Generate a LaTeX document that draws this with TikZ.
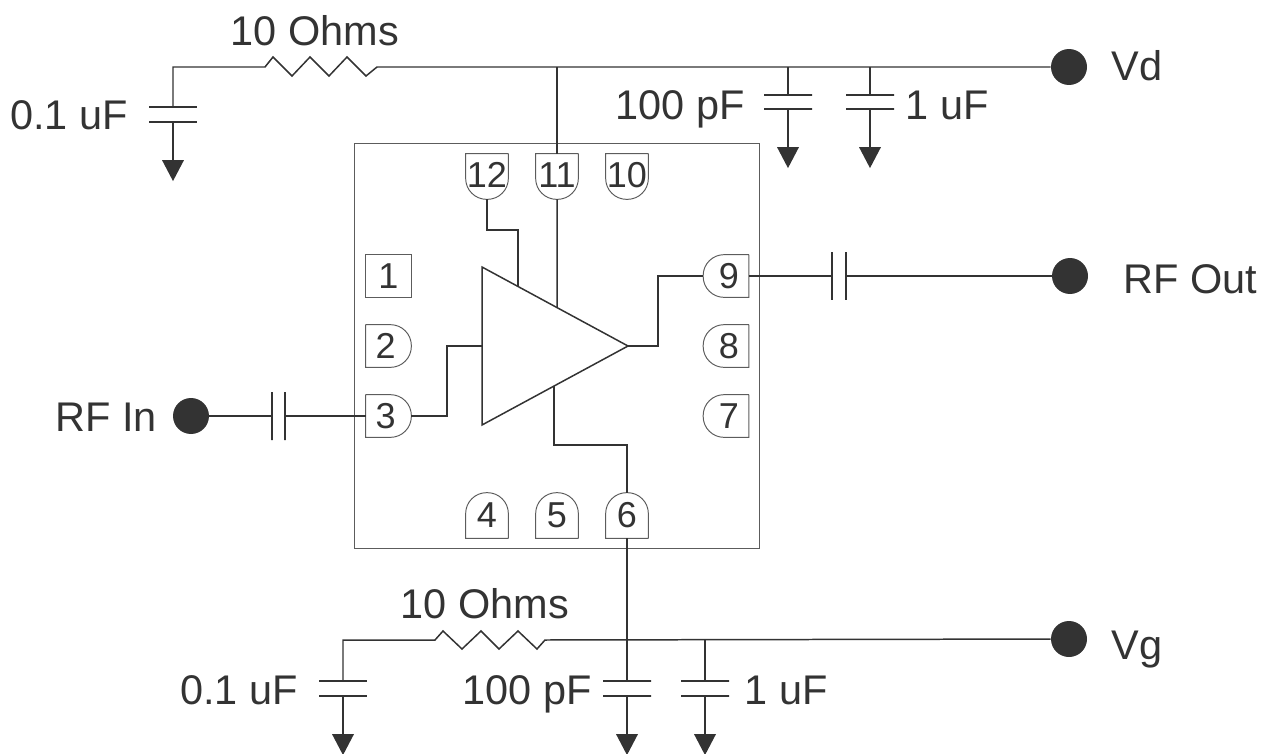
\documentclass[tikz,border=0pt]{standalone}
\usepackage{fontspec}
\setmainfont{Liberation Sans}
\usetikzlibrary{shapes,positioning,calc}
\definecolor{ink}{HTML}{333333}

\begin{document}
\begin{tikzpicture}[
          x=0.02cm, y=-0.02cm,
          wire/.style={draw=ink, line width=0.85pt},
          outline/.style={draw=ink!80, line width=0.55pt},
          label/.style={text=ink, font=\fontsize{23.6}{25}\selectfont, inner sep=0pt},
          pinbox/.style={rectangle, text=ink, font=\fontsize{20.5}{22}\selectfont, inner sep=0pt, minimum width=0.84cm, minimum height=0.9cm},
          terminal/.style={circle, fill=ink, minimum size=0.72cm, inner sep=0pt},
          plate/.style={rectangle, draw=ink, line width=0.85pt, minimum width=0.96cm, minimum height=0pt, inner sep=0pt},
          couple/.style={rectangle, draw=ink, line width=0.85pt, minimum width=0pt, minimum height=0.96cm, inner sep=0pt},
          ground/.style={isosceles triangle, isosceles triangle stretches, shape border rotate=-90, fill=ink, minimum width=0.44cm, minimum height=0.42cm, inner sep=0pt, anchor=apex}
        ]
          \useasboundingbox (0,0) rectangle (1262,754);

          % Package and amplifier
          \node[rectangle, outline, minimum width=8.1cm, minimum height=8.12cm] (chip) at (557,346) {};
          \coordinate (ampA) at (482,267);
          \coordinate (ampB) at (482,425);
          \coordinate (ampC) at (628,346);
          \draw[wire, line join=miter] (ampA) -- (ampC) -- (ampB) -- cycle;

          % Pins
          \foreach \pin/\px in {12/487, 11/557, 10/627}
            \node[pinbox] (pin\pin) at (\px,176.5) {\raisebox{2pt}{\pin}};
          \foreach \pin/\px in {4/487, 5/557, 6/627}
            \node[pinbox] (pin\pin) at (\px,515.5) {\raisebox{-1pt}{\pin}};
          \node[pinbox, minimum width=0.9cm, minimum height=0.84cm] (pin1) at (388.5,276) {1};
          \foreach \pin/\py in {2/346, 3/416}
            \node[pinbox, minimum width=0.9cm, minimum height=0.84cm] (pin\pin) at (388.5,\py) {\pin\kern3.4pt};
          \foreach \pin/\py in {9/276, 8/346, 7/416}
            \node[pinbox, minimum width=0.9cm, minimum height=0.84cm] (pin\pin) at (726,\py) {\kern3.4pt\pin};
          \draw[outline] (pin1.north west) rectangle (pin1.south east);
          \foreach \pin in {12,11,10}
            \draw[outline] (pin\pin.north east) -- (pin\pin.north west) [rounded corners=11.9pt] -- (pin\pin.south west) -- (pin\pin.south east) -- (pin\pin.north east);
          \foreach \pin in {4,5,6}
            \draw[outline] (pin\pin.south east) -- (pin\pin.south west) [rounded corners=11.9pt] -- (pin\pin.north west) -- (pin\pin.north east) -- (pin\pin.south east);
          \foreach \pin in {2,3}
            \draw[outline] (pin\pin.north west) -- (pin\pin.south west) [rounded corners=11.9pt] -- (pin\pin.south east) -- (pin\pin.north east) -- (pin\pin.north west);
          \foreach \pin in {9,8,7}
            \draw[outline] (pin\pin.north east) -- (pin\pin.south east) [rounded corners=11.9pt] -- (pin\pin.south west) -- (pin\pin.north west) -- (pin\pin.north east);

          % Terminals
          \node[terminal] (vd) at (1069,67) {};
          \node[terminal] (rfout) at (1070,276) {};
          \node[terminal] (vg) at (1069,639) {};
          \node[terminal] (rfin) at (191,416) {};
          \node[label, anchor=west] (vdtext) at (1111,66) {Vd};
          \node[label, anchor=west] (rfouttext) at (1123,279) {RF Out};
          \node[label, anchor=west] (vgtext) at (1111,650) {Vg};
          \node[label, anchor=east] (rfintext) at (157,417) {RF In};

          % Drain side
          \node[plate] (c1a) at (173,107) {};
          \node[plate] (c1b) at (173,122) {};
          \node[plate] (c2a) at (788,95) {};
          \node[plate] (c2b) at (788,109) {};
          \node[plate] (c3a) at (870,95) {};
          \node[plate] (c3b) at (870,109) {};
          \node[ground] (g1) at (173,182) {};
          \node[ground] (g2) at (788,169) {};
          \node[ground] (g3) at (870,169) {};
          \coordinate (r1in) at (265,67);
          \coordinate (r1out) at (377,67);
          \draw[wire] (c1a) |- (r1in) -- ++(8,-10) -- ++(19,19) -- ++(18,-19) -- ++(19,19) -- ++(18,-19) -- ++(19,19) -- (r1out) -- (vd);
          \draw[wire] (c1b) -- (g1.lower side);
          \foreach \cap in {2,3} {
            \draw[wire] (c\cap a) -- (c\cap a |- vd);
            \draw[wire] (c\cap b) -- (g\cap.lower side);
          }
          \draw[wire] (pin11.north) -- (pin11.north |- vd);
          \draw[wire] (pin11.south) -- ($(ampA)!0.514!(ampC)$);
          \draw[wire] (pin12.south) |- (518,230) -- (518,286);
          \node[label] (r1text) at (315,31) {10 Ohms};
          \node[label] (c1text) at (69,115) {0.1 uF};
          \node[label] (c2text) at (680,109) {100 pF};
          \node[label] (c3text) at (947,105) {1 uF};

          % Signal path
          \node[couple] (c4a) at (272,416) {};
          \node[couple] (c4b) at (285,416) {};
          \node[couple] (c5a) at (832,276) {};
          \node[couple] (c5b) at (846,276) {};
          \draw[wire] (rfin) -- (c4a);
          \draw[wire] (c4b) -- (pin3.west);
          \draw[wire] (pin3.east) -| (447,346) -- (482,346);
          \draw[wire] (ampC) -| (658,276) -- (pin9.west);
          \draw[wire] (pin9.east) -- (c5a);
          \draw[wire] (c5b) -- (rfout);

          % Gate side
          \node[plate] (c6a) at (343,681) {};
          \node[plate] (c6b) at (343,696) {};
          \node[plate] (c7a) at (627,681) {};
          \node[plate] (c7b) at (627,696) {};
          \node[plate] (c8a) at (705,681) {};
          \node[plate] (c8b) at (705,696) {};
          \node[ground] (g6) at (343,756) {};
          \node[ground] (g7) at (627,756) {};
          \node[ground] (g8) at (705,756) {};
          \coordinate (r2in) at (435,640);
          \coordinate (r2out) at (545,640);
          \draw[wire] (c6a) |- (r2in) -- ++(8,-9) -- ++(19,18) -- ++(19,-18) -- ++(18,18) -- ++(19,-18) -- ++(19,18) -- (r2out) -- (vg);
          \draw[wire] (pin6.south) -- (c7a);
          \foreach \cap in {6,7,8}
            \draw[wire] (c\cap b) -- (g\cap.lower side);
          \draw[wire] (c8a) -- (c8a |- vg);
          \draw[wire] ($(ampC)!0.5!(ampB)+(-1,0)$) |- (627,445) -- (pin6.north);
          \node[label] (r2text) at (485,604) {10 Ohms};
          \node[label] (c6text) at (239,690) {0.1 uF};
          \node[label] (c7text) at (527,694) {100 pF};
          \node[label] (c8text) at (786,690) {1 uF};
        \end{tikzpicture}
\end{document}
